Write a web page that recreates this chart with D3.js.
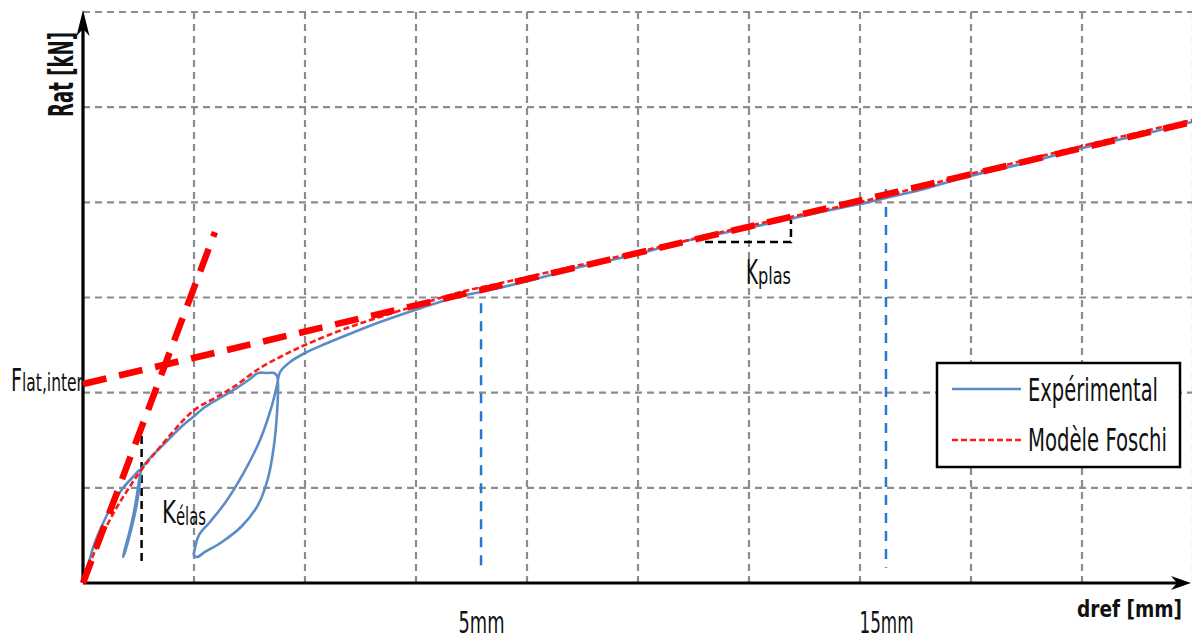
<!DOCTYPE html>
<html>
<head>
<meta charset="utf-8">
<script src="https://cdn.jsdelivr.net/npm/d3@7"></script>
<style>
  html, body { margin: 0; padding: 0; background: #fff; }
  svg { display: block; }
  text { font-family: 'Liberation Sans Narrow', 'Arial Narrow', 'DejaVu Sans Condensed', 'Roboto Condensed', sans-serif; fill: #111; }
</style>
</head>
<body>
<svg id="chart" width="1192" height="637"></svg>
<script>
// Load-displacement test: experimental curve vs. Foschi model
// x: displacement in grid divisions, y: lateral force in grid divisions

// Experimental curve (with two unload/reload loops)
const expX = [0, 0.036, 0.090, 0.153, 0.216, 0.288, 0.360, 0.441, 0.514,
  0.505, 0.486, 0.459, 0.423, 0.387, 0.360,
  0.378, 0.414, 0.459, 0.495, 0.514, 0.523,
  0.604, 0.694, 0.784, 0.874, 0.991, 1.099, 1.234, 1.369, 1.505, 1.577, 1.658, 1.721, 1.748,
  1.757, 1.748, 1.721, 1.667, 1.577, 1.432, 1.252, 1.099, 1.027, 1.000,
  1.009, 1.045, 1.144, 1.279, 1.441, 1.595, 1.703, 1.748, 1.775, 1.865, 2.000, 2.180, 2.378,
  2.676, 2.991, 3.369, 3.667, 4.009, 4.477, 5.000, 5.468, 5.991, 6.369, 6.730, 7.000, 7.234,
  7.541, 7.991, 8.532, 9.000, 9.523, 9.991];
const expY = [0, 0.137, 0.368, 0.557, 0.715, 0.872, 0.998, 1.103, 1.187,
  1.082, 0.925, 0.746, 0.557, 0.399, 0.273,
  0.326, 0.473, 0.683, 0.904, 1.082, 1.187,
  1.313, 1.419, 1.524, 1.629, 1.744, 1.849, 1.944, 2.038, 2.144, 2.207, 2.207, 2.207, 2.175,
  2.080, 1.786, 1.450, 1.103, 0.820, 0.599, 0.431, 0.326, 0.273, 0.294,
  0.368, 0.504, 0.641, 0.841, 1.145, 1.503, 1.870, 2.080, 2.217, 2.322, 2.417, 2.511, 2.606,
  2.742, 2.869, 3.005, 3.079, 3.173, 3.320, 3.457, 3.604, 3.730, 3.825, 3.919, 3.982, 4.045,
  4.129, 4.277, 4.424, 4.571, 4.707, 4.844];

// Foschi model curve
const modelX = [0, 0.063, 0.153, 0.270, 0.396, 0.532, 0.694, 0.991, 1.189, 1.369, 1.595, 1.793,
  2.000, 2.378, 2.676, 2.991, 3.369, 3.847, 4.477, 5.000, 5.991, 7.000, 7.991, 9.000, 9.991];
const modelY = [0, 0.210, 0.452, 0.725, 0.967, 1.198, 1.429, 1.807, 1.944, 2.070, 2.259, 2.385,
  2.501, 2.679, 2.795, 2.911, 3.047, 3.173, 3.341, 3.478, 3.751, 4.003, 4.298, 4.592, 4.865];

// Elastic and plastic stiffness lines (end points)
const elasticLineX = [0, 1.189];
const elasticLineY = [0, 3.688];
const plasticLineX = [0, 9.991];
const plasticLineY = [2.091, 4.844];

// Reference displacements marked on the x axis
const markX = [3.586, 7.234];
const markTopY = [2.94, 4.14];
const markBottomY = 0.16;
const tickLabels = ["5mm", "15mm"];

// Stiffness triangles
const kElasX = 0.528, kElasY = [0.210, 1.681];
const kPlasX = [5.604, 6.378], kPlasY = [3.583, 3.909];

const gridX = d3.range(1, 11);
const gridY = d3.range(1, 7);

const legendLabels = ["Expérimental", "Modèle Foschi"];

const svg = d3.select("#chart");
const x = d3.scaleLinear().domain([0, 10]).range([83, 1193]);
const y = d3.scaleLinear().domain([0, 6]).range([583, 12]);

// grid
const grid = svg.append("g").attr("stroke", "#8c8c8c").attr("stroke-width", 2.2)
  .attr("stroke-dasharray", "7,5").attr("fill", "none");
grid.selectAll("line.v").data(gridX).join("line").attr("class", "v")
  .attr("x1", d => x(d)).attr("x2", d => x(d)).attr("y1", y(0)).attr("y2", y(6));
grid.selectAll("line.h").data(gridY).join("line").attr("class", "h")
  .attr("y1", d => y(d)).attr("y2", d => y(d)).attr("x1", x(0)).attr("x2", x(10));

// reference displacement markers
svg.append("g").selectAll("line").data(markX).join("line")
  .attr("x1", d => x(d)).attr("x2", d => x(d))
  .attr("y1", (d, i) => y(markTopY[i])).attr("y2", y(markBottomY))
  .attr("stroke", "#2378d0").attr("stroke-width", 2.5).attr("stroke-dasharray", "10,8");

// stiffness annotation lines
const ann = svg.append("g").attr("stroke", "#000").attr("stroke-width", 2.5)
  .attr("stroke-dasharray", "8,5").attr("fill", "none");
ann.append("line").attr("x1", x(kElasX)).attr("x2", x(kElasX))
  .attr("y1", y(kElasY[1])).attr("y2", y(kElasY[0]));
ann.append("path").attr("d",
  `M${x(kPlasX[0])},${y(kPlasY[0])}L${x(kPlasX[1])},${y(kPlasY[0])}L${x(kPlasX[1])},${y(kPlasY[1])}`);

// axes
svg.append("line").attr("x1", x(0)).attr("x2", 1180).attr("y1", y(0)).attr("y2", y(0))
  .attr("stroke", "#000").attr("stroke-width", 3.2);
svg.append("line").attr("x1", x(0)).attr("x2", x(0)).attr("y1", y(0)).attr("y2", 22)
  .attr("stroke", "#000").attr("stroke-width", 3.2);
svg.append("path").attr("d", "M83,10L76.5,36L83,29L89.5,36Z").attr("fill", "#000");
svg.append("path").attr("d", "M1191,583L1171,576L1177,583L1171,590Z").attr("fill", "#000");

const line = d3.line().x(d => x(d[0])).y(d => y(d[1])).curve(d3.curveCatmullRom.alpha(0.5));

// experimental curve
svg.append("path").datum(expX.map((v, i) => [v, expY[i]]))
  .attr("d", line).attr("fill", "none").attr("stroke", "#5b8cc8").attr("stroke-width", 2.6)
  .attr("stroke-linejoin", "round");

// model curve
svg.append("path").datum(modelX.map((v, i) => [v, modelY[i]]))
  .attr("d", line).attr("fill", "none").attr("stroke", "#ff1a1a").attr("stroke-width", 2.6)
  .attr("stroke-dasharray", "6,3");

// stiffness lines
const straight = d3.line().x(d => x(d[0])).y(d => y(d[1]));
svg.append("path").datum(elasticLineX.map((v, i) => [v, elasticLineY[i]]))
  .attr("d", straight).attr("stroke", "#ff0000").attr("stroke-width", 6.5)
  .attr("stroke-dasharray", "24,13").attr("fill", "none");
svg.append("path").datum(plasticLineX.map((v, i) => [v, plasticLineY[i]]))
  .attr("d", straight).attr("stroke", "#ff0000").attr("stroke-width", 6.5)
  .attr("stroke-dasharray", "24,13").attr("fill", "none");

// x axis tick labels
const xAxis = d3.axisBottom(x).tickValues(markX).tickFormat((d, i) => tickLabels[i]).tickSize(0);
const gx = svg.append("g").attr("transform", "translate(0,583)").call(xAxis);
gx.select(".domain").remove();
gx.selectAll("text").attr("y", 50).attr("dy", null)
  .attr("font-size", 30).attr("fill", "#111")
  .style("font-family", "'Liberation Sans Narrow','Arial Narrow','DejaVu Sans Condensed',sans-serif")
  .attr("textLength", (d, i) => [46, 54][i]).attr("lengthAdjust", "spacingAndGlyphs");

// axis titles
svg.append("text").attr("x", 1182).attr("y", 617).attr("text-anchor", "end")
  .attr("font-size", 23).attr("font-weight", "bold")
  .attr("textLength", 105).attr("lengthAdjust", "spacingAndGlyphs").text("dref [mm]");
svg.append("text").attr("transform", "translate(73,74.5) rotate(-90)").attr("text-anchor", "middle")
  .attr("font-size", 34).attr("font-weight", "bold")
  .attr("textLength", 85).attr("lengthAdjust", "spacingAndGlyphs").text("Rat [kN]");

// annotations with subscripts
function subLabel(px, py, main, sub, mainSize, subSize, mainW, subW, subDy) {
  const t = svg.append("text").attr("x", px).attr("y", py);
  t.append("tspan").attr("font-size", mainSize).attr("textLength", mainW)
    .attr("lengthAdjust", "spacingAndGlyphs").text(main);
  t.append("tspan").attr("font-size", subSize).attr("dy", subDy).attr("textLength", subW)
    .attr("lengthAdjust", "spacingAndGlyphs").text(sub);
}
subLabel(11, 391, "F", "lat,inter", 32, 24, 11, 61, 0);
subLabel(162, 523, "K", "élas", 32, 24, 14, 30, 2);
subLabel(746, 284, "K", "plas", 33, 23, 12, 33, 0);

// legend
const lg = svg.append("g");
lg.append("rect").attr("x", 937).attr("y", 363).attr("width", 243).attr("height", 104)
  .attr("fill", "#fff").attr("stroke", "#000").attr("stroke-width", 2.5);
lg.append("line").attr("x1", 952).attr("x2", 1021).attr("y1", 389).attr("y2", 389)
  .attr("stroke", "#5b8cc8").attr("stroke-width", 2.6);
lg.append("line").attr("x1", 952).attr("x2", 1021).attr("y1", 440).attr("y2", 440)
  .attr("stroke", "#ff1a1a").attr("stroke-width", 2.6).attr("stroke-dasharray", "6,3");
lg.selectAll("text").data(legendLabels).join("text")
  .attr("x", 1028).attr("y", (d, i) => [401, 451][i])
  .attr("font-size", 32).attr("textLength", (d, i) => [130, 139][i])
  .attr("lengthAdjust", "spacingAndGlyphs").text(d => d);
</script>
</body>
</html>
